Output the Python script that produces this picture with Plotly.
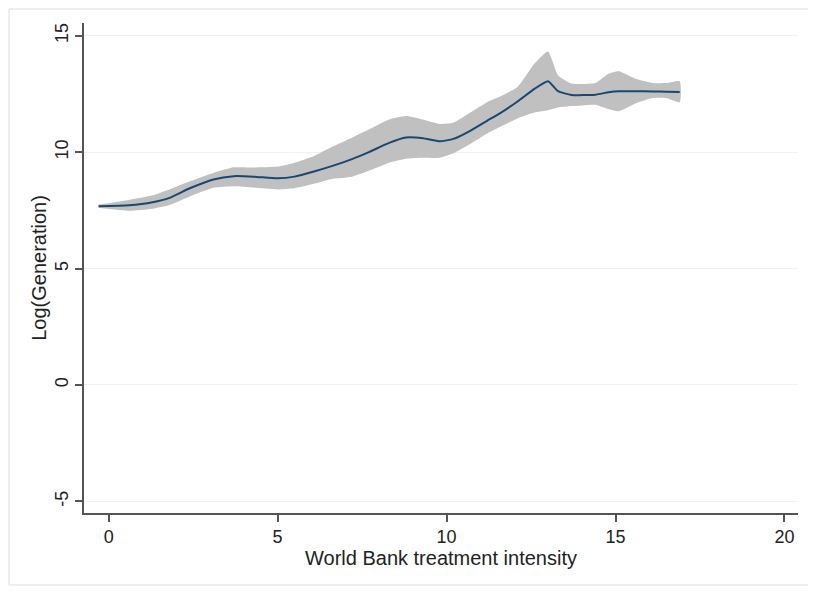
import plotly.graph_objects as go

# treatment intensity grid and fitted values
intensity = [-0.3, 0.6, 1.3, 1.8, 2.4, 3.1, 3.7, 4.3, 5.0, 5.5, 6.1, 6.6, 7.2, 7.7, 8.3,
             8.8, 9.3, 9.8, 10.2, 10.7, 11.2, 11.6, 12.1, 12.6, 13.0, 13.3, 13.7, 14.4,
             14.8, 15.1, 15.6, 16.1, 16.5, 16.9]
fit = [7.68, 7.72, 7.85, 8.04, 8.45, 8.83, 8.97, 8.95, 8.88, 8.95, 9.18, 9.40, 9.70, 10.0,
       10.40, 10.63, 10.60, 10.47, 10.57, 10.92, 11.35, 11.69, 12.18, 12.72, 13.05, 12.62,
       12.46, 12.47, 12.58, 12.62, 12.62, 12.61, 12.60, 12.59]
ci_upper = [7.75, 7.95, 8.15, 8.40, 8.75, 9.11, 9.35, 9.34, 9.38, 9.55, 9.85, 10.22, 10.62,
            10.97, 11.40, 11.55, 11.40, 11.21, 11.26, 11.70, 12.15, 12.40, 12.80, 13.80,
            14.33, 13.30, 12.95, 12.97, 13.38, 13.48, 13.15, 12.97, 12.97, 13.05]
ci_lower = [7.61, 7.48, 7.57, 7.73, 8.10, 8.47, 8.54, 8.48, 8.40, 8.45, 8.65, 8.85, 8.95,
            9.20, 9.55, 9.72, 9.76, 9.76, 9.95, 10.35, 10.80, 11.10, 11.45, 11.70, 11.80,
            11.92, 11.98, 12.04, 11.85, 11.76, 12.10, 12.33, 12.33, 12.15]

xticks = [0, 5, 10, 15, 20]
yticks = [-5, 0, 5, 10, 15]
ylabels = ["-5", "0", "5", "10", "15"]

font = "Liberation Sans, Arial, sans-serif"

fig = go.Figure()
fig.add_trace(go.Scatter(x=intensity + intensity[::-1], y=ci_upper + ci_lower[::-1],
                         fill="toself", fillcolor="#c0c0c0",
                         line=dict(width=0, shape="spline", smoothing=0.5),
                         mode="lines", hoverinfo="skip", showlegend=False))
fig.add_trace(go.Scatter(x=intensity, y=fit, mode="lines",
                         line=dict(color="#1a476f", width=2, shape="spline", smoothing=0.5),
                         showlegend=False))

# page body adds an 8px offset, so the figure is shrunk to fit the window
frame = dict(color="#e3ebee", width=1.5)
fig.update_layout(
    width=800, height=578,
    margin=dict(l=76, r=10, t=15, b=73),
    paper_bgcolor="white", plot_bgcolor="white",
    font=dict(family=font, color="#222222"),
    shapes=[
        dict(type="line", xref="paper", yref="paper", x0=-75 / 714, x1=-75 / 714,
             y0=-72 / 490, y1=504 / 490, line=frame, layer="below"),
        dict(type="line", xref="paper", yref="paper", x0=-75 / 714, x1=724 / 714,
             y0=504 / 490, y1=504 / 490, line=frame, layer="below"),
        dict(type="line", xref="paper", yref="paper", x0=-75 / 714, x1=724 / 714,
             y0=-72 / 490, y1=-72 / 490, line=frame, layer="below"),
    ],
)
fig.update_xaxes(
    range=[-0.73, 20.4], tickvals=xticks, showgrid=False, zeroline=False,
    showline=True, linecolor="#555555", linewidth=1.5, automargin=False,
    ticks="outside", ticklen=7, tickcolor="#555555", tickwidth=1.5,
    tickfont=dict(size=18), title=dict(text="World Bank treatment intensity",
                                       font=dict(size=20), standoff=2),
)
fig.update_yaxes(
    range=[-5.5, 15.55], tickvals=yticks, ticktext=ylabels, tickangle=-90, showgrid=True,
    gridcolor="#eaf2f3", gridwidth=1, zeroline=False, automargin=False,
    showline=True, linecolor="#555555", linewidth=1.5,
    ticks="outside", ticklen=7, tickcolor="#555555", tickwidth=1.5,
    tickfont=dict(size=18), title=dict(text="Log(Generation)", font=dict(size=20),
                                       standoff=0),
)

fig.write_html("out.html")
